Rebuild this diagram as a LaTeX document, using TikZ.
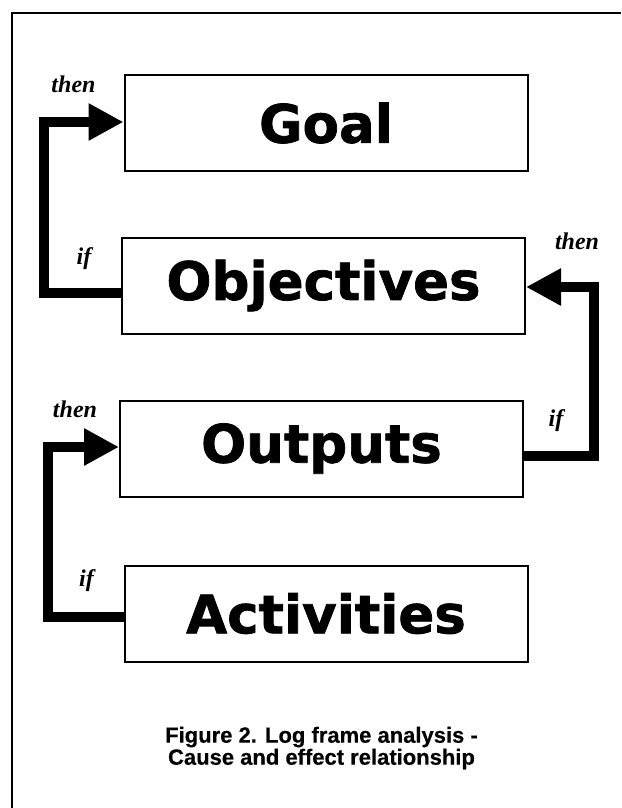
\documentclass[tikz,border=0pt]{standalone}
\usepackage{fontspec}
\newfontfamily\boxfont{DejaVu Sans}[FakeBold=1.4]
\newfontfamily\labfont{Liberation Serif}
\newfontfamily\capfont{Liberation Sans}[FakeBold=0.4]
\usepackage{tikz}
\usetikzlibrary{calc}
\usetikzlibrary{positioning}
\usetikzlibrary{arrows.meta}
\tikzstyle{stagebox} = [draw, rectangle, line width=2pt, minimum width=403pt, minimum height=96pt, inner sep=0pt, font=\boxfont\bfseries\fontsize{53}{60}\selectfont]
\tikzstyle{ifthen} = [font=\labfont\bfseries\itshape\fontsize{24}{28}\selectfont, inner sep=0pt]
\tikzstyle{causearrow} = [line width=10.5pt, line join=miter, -{Triangle[length=35pt,width=35pt]}]

\begin{document}
\begin{tikzpicture}[x=1pt,y=-1pt]
\useasboundingbox (0,0) rectangle (621,808);
\draw[line width=2.5pt] (12,808) -- (12,13) -- (621,13);

\node[stagebox] (goal) at (326,123) {Goal};
\node[stagebox] (obj) at (323.5,285.5) {Objectives};
\node[stagebox] (out) at (321.5,448.5) {Outputs};
\node[stagebox] (act) at (326,613.5) {Activities};

% if ... then
\draw[causearrow] ($(obj.west)+(0,7.5)$) -- ++(-77,0) |- ($(goal.west)+(0,-1)$);
\draw[causearrow] ($(out.east)+(0,7.5)$) -- ++(70,0) |- ($(obj.east)+(0,1.5)$);
\draw[causearrow] ($(act.west)+(0,3.5)$) -- ++(-75.5,0) |- ($(out.west)+(0,-1.5)$);

\node[ifthen] (then1) at ($(goal.west)+(-50,-39)$) {then};
\node[ifthen] (if1) at ($(obj.west)+(-37,-26.5)$) {if};
\node[ifthen] (then2) at ($(obj.east)+(51,-44)$) {then};
\node[ifthen] (if2) at ($(out.east)+(32,-27.5)$) {if};
\node[ifthen] (then3) at ($(out.west)+(-44,-39.5)$) {then};
\node[ifthen] (if3) at ($(act.west)+(-37,-32.5)$) {if};

\node[font=\capfont\bfseries\fontsize{22}{22}\selectfont, align=center] (caption) at (321.5,748) {Figure 2. Log frame analysis -\\Cause and effect relationship};
\end{tikzpicture}
\end{document}
